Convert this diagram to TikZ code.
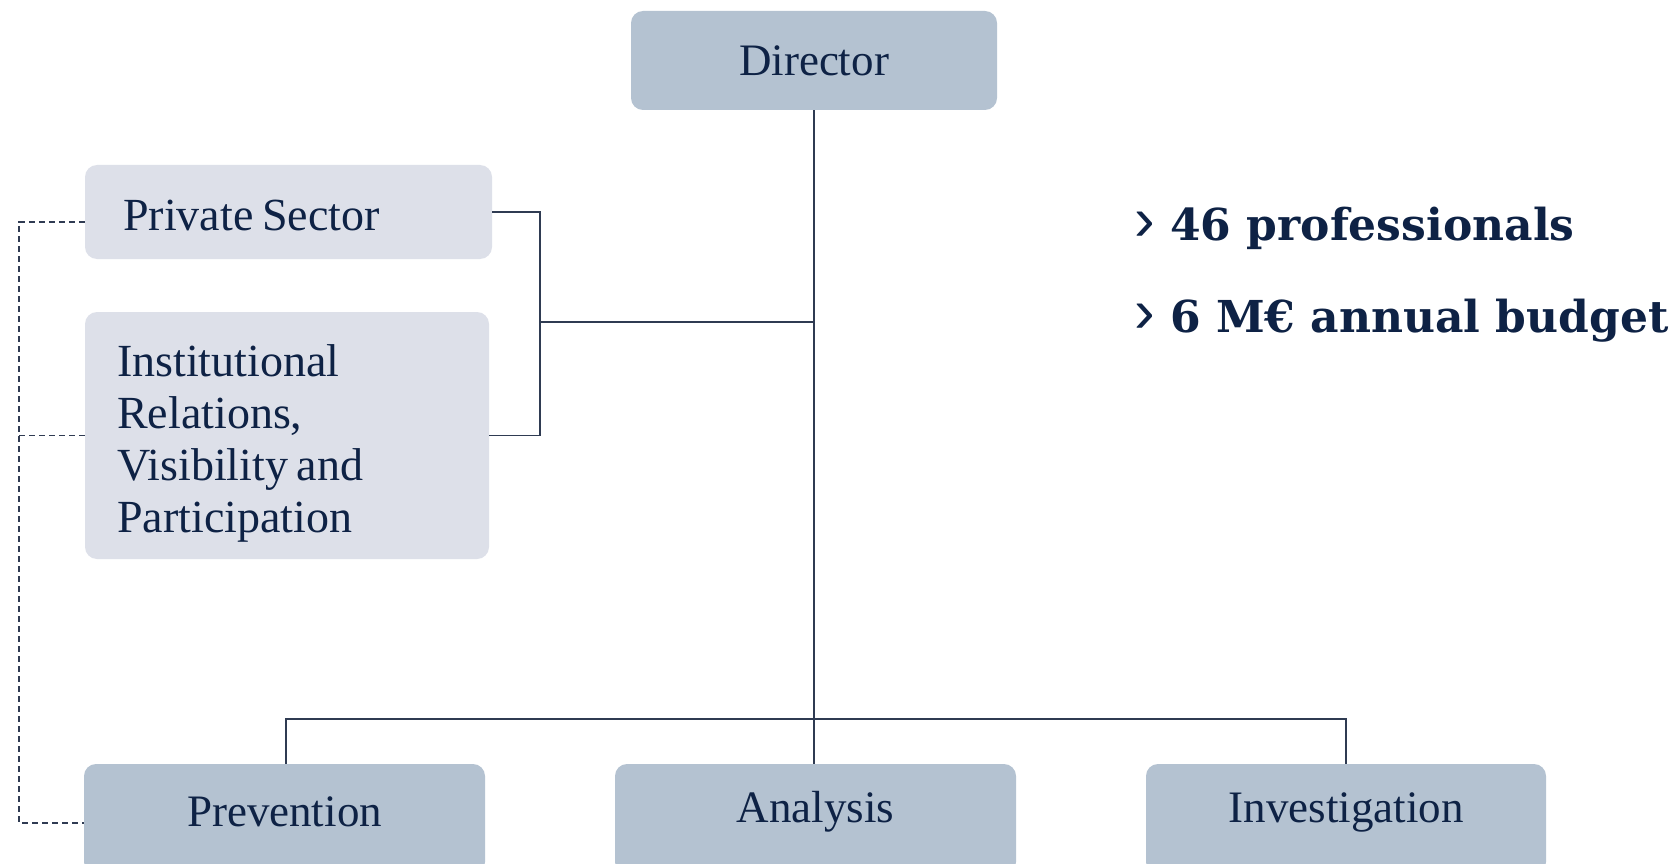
\documentclass[tikz,border=0pt]{standalone}
\usepackage{fontspec}
\setmainfont{Liberation Serif}
\newfontfamily\tightserif[WordSpace=0.75]{Liberation Serif}
\newfontfamily\boldserif{DejaVu Serif}
\newfontfamily\chevfont{Liberation Sans}
\definecolor{navy}{HTML}{0E2245}
\definecolor{darkboxc}{HTML}{B4C2D1}
\definecolor{lightboxc}{HTML}{DDE0E9}
\definecolor{linec}{HTML}{2F3B52}
\begin{document}
\begin{tikzpicture}[x=1pt,y=-1pt,
  darkbox/.style={fill=darkboxc, rounded corners=12pt, draw=none, inner sep=0pt},
  lightbox/.style={fill=lightboxc, rounded corners=12pt, draw=none, inner sep=0pt},
  boxtext/.style={text=navy, font=\fontsize{45}{52}\selectfont, inner sep=0pt},
  lighttext/.style={text=navy, font=\tightserif\fontsize{46}{52}\selectfont, inner sep=0pt, align=left},
  conn/.style={draw=linec, line width=1.8pt},
  dashc/.style={draw=linec, line width=1.4pt, dash pattern=on 6pt off 4pt},
  bigtext/.style={text=navy, font=\boldserif\bfseries\fontsize{44}{50}\selectfont, inner sep=0pt, anchor=base west},
  chev/.style={text=navy, font=\chevfont\fontsize{62}{62}\selectfont, inner sep=0pt, anchor=base west}]
\useasboundingbox (0,0) rectangle (1671,864);
\clip (0,0) rectangle (1671,864);
\fill[white] (0,0) rectangle (1671,864);

\node[darkbox, boxtext, minimum width=366pt, minimum height=99pt] (dir) at (814,60.5) {Director};

\node[lightbox, minimum width=407pt, minimum height=94pt] (ps) at (288.5,212) {};
\node[lightbox, minimum width=404pt, minimum height=247pt] (ir) at (287,435.5) {};
\node[lighttext, anchor=west] (pst) at (123,215) {Private Sector};
\node[lighttext, anchor=west] (irt) at (117,443) {Institutional\\Relations,\\Visibility and\\Participation};

\node[darkbox, minimum width=401pt, minimum height=110pt] (prev) at (284.5,819) {};
\node[darkbox, minimum width=401pt, minimum height=110pt] (ana) at (815.5,819) {};
\node[darkbox, minimum width=400pt, minimum height=110pt] (inv) at (1346,819) {};
\node[boxtext] (prevt) at (284.5,812) {Prevention};
\node[boxtext] (anat) at (815.5,812) {Analysis};
\node[boxtext] (invt) at (1346,812) {Investigation};

\coordinate (hb) at (814,719);
\coordinate (bx) at (540,322);
\draw[conn] (dir.south) -- (dir.south |- ana.north);
\draw[conn] (prev.north -| 286,0) -- (286,719) -- (inv.north |- hb) -- (inv.north);
\draw[conn] (ps.east) -| (bx) |- (ir.east);
\draw[conn] (bx) -- (bx -| dir.south);

\coordinate (dtop) at (19,222);
\coordinate (dbot) at (19,823);
\draw[dashc] (ps.west |- dtop) -- (dtop) -- (dbot) -- (prev.west |- dbot);
\draw[dashc] (ir.west) -- (ir.west -| dtop);

\node[chev] (c1) at (1134,240) {›};
\node[bigtext] (s1) at (1170,240) {46 professionals};
\node[chev] (c2) at (1134,332) {›};
\node[bigtext] (s2) at (1170,332) {6 M€ annual budget};
\end{tikzpicture}
\end{document}
